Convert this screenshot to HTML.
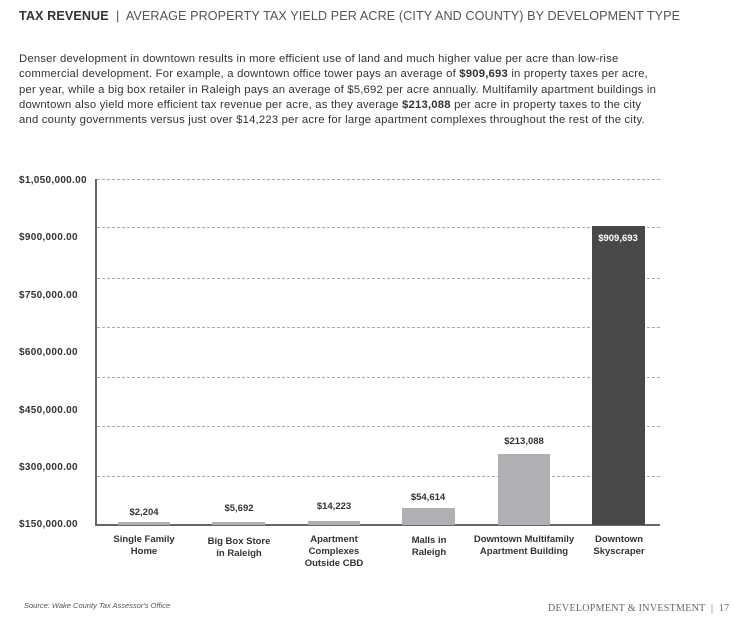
<!DOCTYPE html>
<html><head><meta charset="utf-8"><style>
body{margin:0;width:735px;height:619px;background:#fff;position:relative;overflow:hidden;font-family:"Liberation Sans",sans-serif;color:#333}
.a{position:absolute;white-space:nowrap}
.t{left:19px;top:9px;font-size:12.6px;color:#555;letter-spacing:0.1px}
.p{left:19px;top:52px;font-size:11.3px;line-height:15.3px;color:#333;letter-spacing:0.2px}
.yl{left:19px;font-size:10px;font-weight:bold;color:#333;letter-spacing:0.3px}
.g{position:absolute;left:97px;width:563px;border-top:1px dashed #aaa;height:0}
.bar{position:absolute;background:#b0afb3}
.v{position:absolute;font-size:9.5px;font-weight:bold;text-align:center;width:100px;color:#333}
.c{position:absolute;font-size:9.5px;font-weight:bold;text-align:center;width:140px;line-height:12px;top:534px;color:#333}
</style></head><body>
<div class="a t"><b style="color:#333">TAX REVENUE</b> &nbsp;|&nbsp; AVERAGE PROPERTY TAX YIELD PER ACRE (CITY AND COUNTY) BY DEVELOPMENT TYPE</div>
<div class="a p">Denser development in downtown results in more efficient use of land and much higher value per acre than low-rise<br>commercial development. For example, a downtown office tower pays an average of <b>$909,693</b> in property taxes per acre,<br>per year, while a big box retailer in Raleigh pays an average of $5,692 per acre annually. Multifamily apartment buildings in<br>downtown also yield more efficient tax revenue per acre, as they average <b>$213,088</b> per acre in property taxes to the city<br>and county governments versus just over $14,223 per acre for large apartment complexes throughout the rest of the city.</div>

<div class="a yl" style="top:175px">$1,050,000.00</div>
<div class="a yl" style="top:232px">$900,000.00</div>
<div class="a yl" style="top:290px">$750,000.00</div>
<div class="a yl" style="top:347px">$600,000.00</div>
<div class="a yl" style="top:405px">$450,000.00</div>
<div class="a yl" style="top:462px">$300,000.00</div>
<div class="a yl" style="top:519px">$150,000.00</div>

<div class="g" style="top:179px"></div>
<div class="g" style="top:227px"></div>
<div class="g" style="top:278px"></div>
<div class="g" style="top:327px"></div>
<div class="g" style="top:377px"></div>
<div class="g" style="top:426px"></div>
<div class="g" style="top:476px"></div>

<div style="position:absolute;left:95px;top:179px;width:2px;height:347px;background:#666"></div>
<div style="position:absolute;left:95px;top:524px;width:565px;height:2px;background:#666"></div>

<div class="bar" style="left:118px;top:522px;width:52px;height:3px"></div>
<div class="bar" style="left:212px;top:522px;width:53px;height:3px"></div>
<div class="bar" style="left:308px;top:521px;width:52px;height:4px"></div>
<div class="bar" style="left:402px;top:508px;width:53px;height:17px"></div>
<div class="bar" style="left:498px;top:454px;width:52px;height:71px"></div>
<div class="bar" style="left:592px;top:226px;width:53px;height:299px;background:#48484b"></div>

<div class="v" style="left:94px;top:507px">$2,204</div>
<div class="v" style="left:189px;top:503px">$5,692</div>
<div class="v" style="left:284px;top:501px">$14,223</div>
<div class="v" style="left:378px;top:492px">$54,614</div>
<div class="v" style="left:474px;top:436px">$213,088</div>
<div class="v" style="left:568px;top:233px;color:#fff">$909,693</div>

<div class="c" style="left:74px">Single Family<br>Home</div>
<div class="c" style="left:169px;top:536px">Big Box Store<br>in Raleigh</div>
<div class="c" style="left:264px">Apartment<br>Complexes<br>Outside CBD</div>
<div class="c" style="left:359px;top:535px">Malls in<br>Raleigh</div>
<div class="c" style="left:454px">Downtown Multifamily<br>Apartment Building</div>
<div class="c" style="left:549px">Downtown<br>Skyscraper</div>

<div class="a" style="left:24px;top:601px;font-size:7.5px;font-style:italic;color:#555">Source: Wake County Tax Assessor's Office</div>
<div class="a" style="left:548px;top:603px;font-size:10px;font-family:'Liberation Serif',serif;color:#666;letter-spacing:0.3px">DEVELOPMENT &amp; INVESTMENT &nbsp;| &nbsp;17</div>
</body></html>
